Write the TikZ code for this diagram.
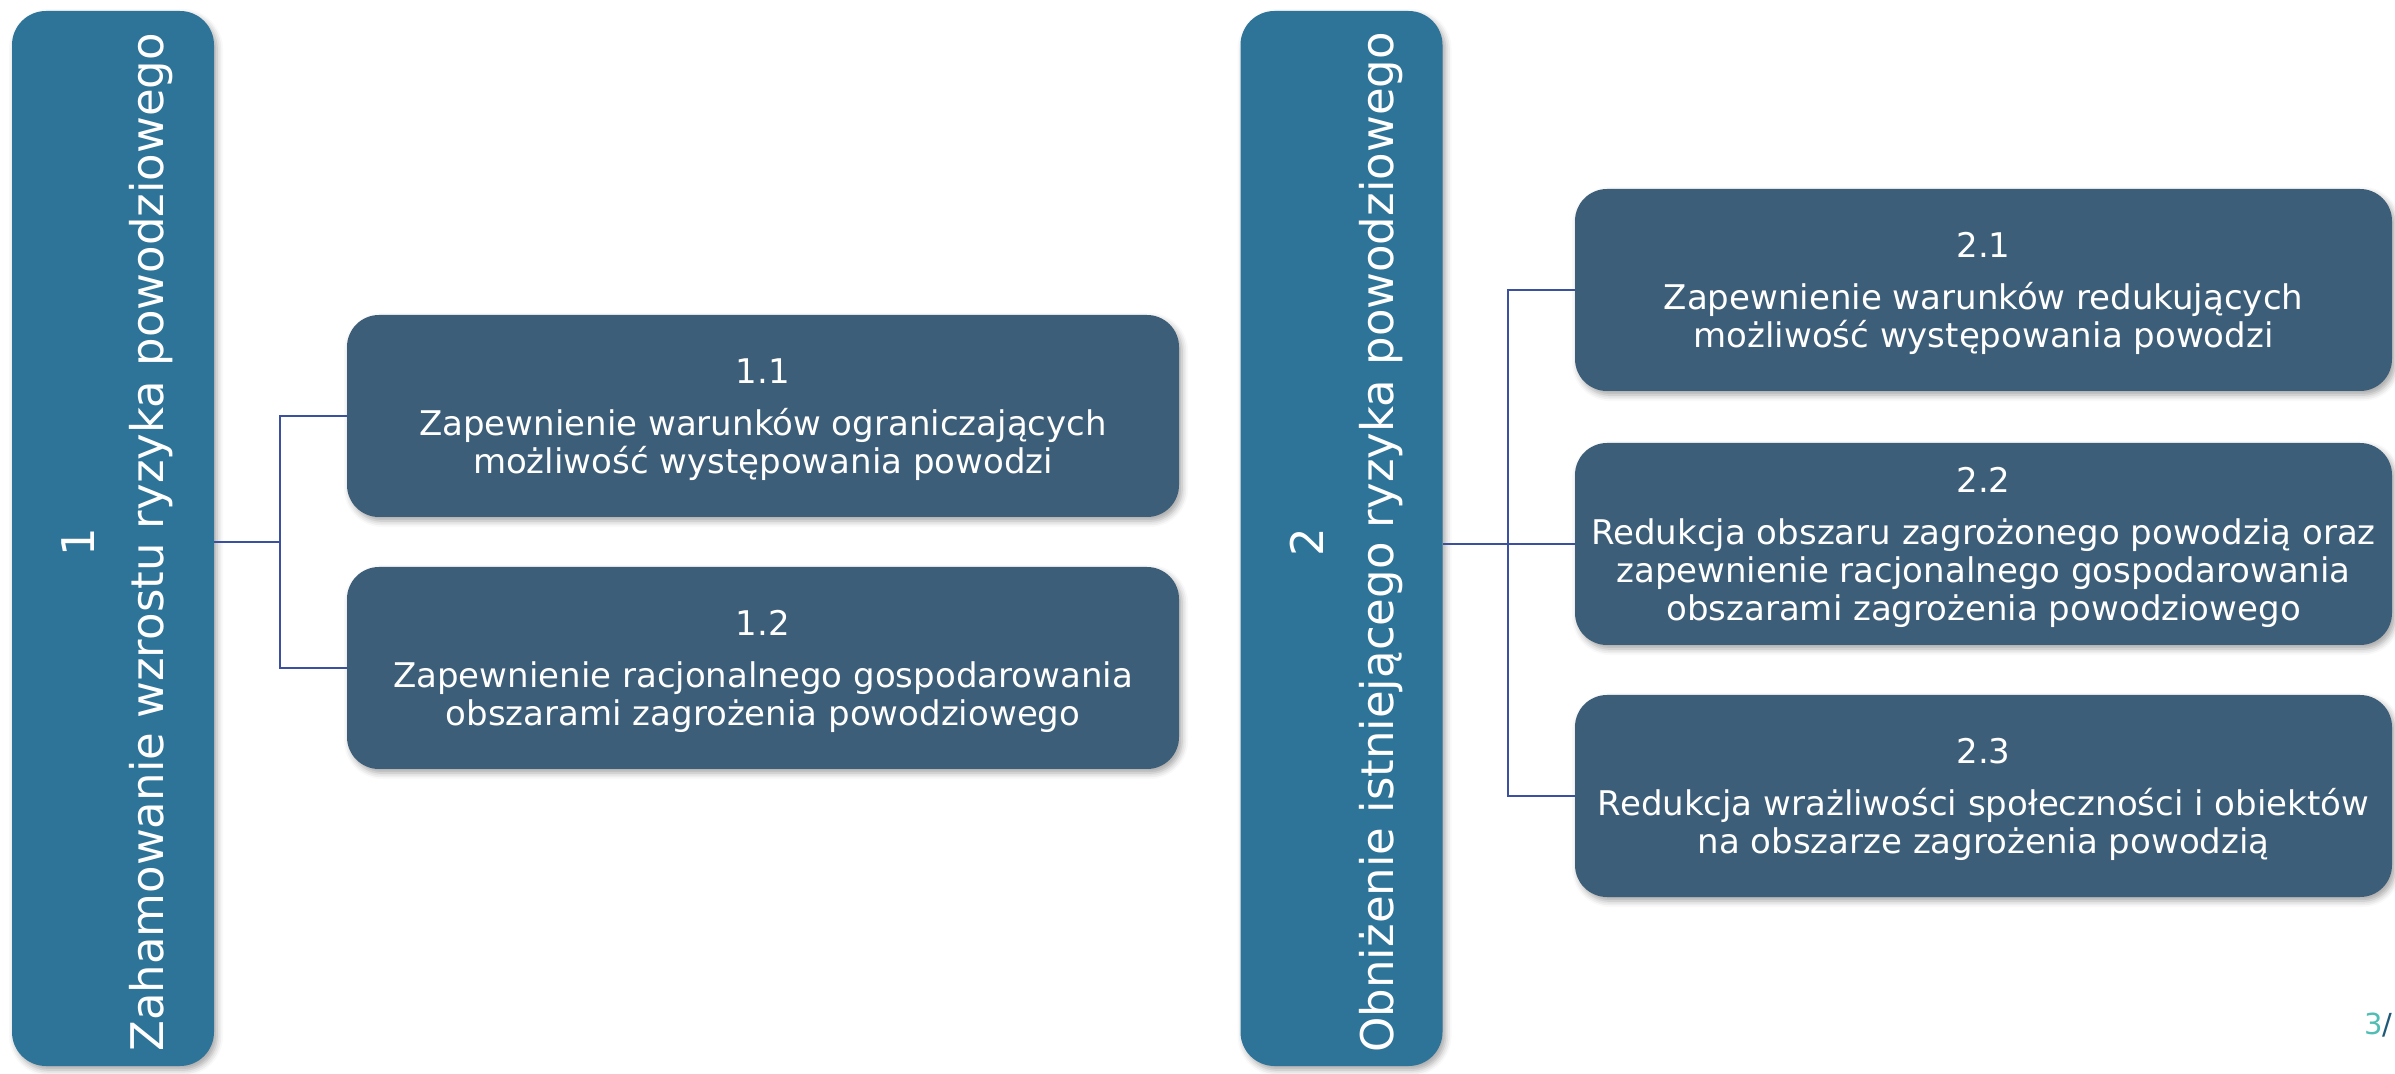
\documentclass[tikz,border=0pt]{standalone}
\usepackage{fontspec}
\setmainfont{DejaVu Sans}
\usetikzlibrary{shadows.blur}
\definecolor{bigc}{RGB}{46,116,153}
\definecolor{smallc}{RGB}{61,94,120}
\definecolor{connc}{RGB}{60,80,160}
\definecolor{pagec}{RGB}{80,190,180}
\definecolor{slashc}{RGB}{30,90,120}
\tikzset{
  myshadow/.style={blur shadow={shadow xshift=1.5pt, shadow yshift=-2pt, shadow blur radius=3pt, shadow opacity=35}},
  bigbox/.style={rectangle, rounded corners=17pt, fill=bigc, draw=none,
    minimum width=101pt, minimum height=527.5pt, inner sep=0pt, myshadow},
  vtext/.style={rotate=90, anchor=base, inner sep=0pt, text=white,
    font=\fontsize{22.5}{27}\selectfont},
  subbox/.style={rectangle, rounded corners=16pt, fill=smallc, draw=none, text=white,
    minimum height=101pt, inner sep=0pt, align=center, myshadow,
    font=\fontsize{17}{19}\selectfont},
  conn/.style={draw=connc, line width=1.4pt}
}
\newcommand{\numstrut}{\rule{0pt}{16.4pt}}
\begin{document}
\begin{tikzpicture}[x=0.5pt,y=-0.5pt]
\useasboundingbox (0,0) rectangle (2395,1074);
% big vertical boxes
\node[bigbox] (b1) at (113,538.5) {};
\node[vtext] (t1n) at (94,542.5) {1};
\node[vtext] (t1) at (163,542.5) {Zahamowanie wzrostu ryzyka powodziowego};
\node[bigbox] (b2) at (1341.5,538.5) {};
\node[vtext] (t2n) at (1323,542.5) {2};
\node[vtext] (t2) at (1393,542.5) {Obniżenie istniejącego ryzyka powodziowego};
% sub boxes
\node[subbox, minimum width=416pt] (b11) at (763,416) {\numstrut 1.1\\[7pt]Zapewnienie warunków ograniczających\\możliwość występowania powodzi};
\node[subbox, minimum width=416pt] (b12) at (763,668) {\numstrut 1.2\\[7pt]Zapewnienie racjonalnego gospodarowania\\obszarami zagrożenia powodziowego};
\node[subbox, minimum width=408.5pt] (b21) at (1983.5,290) {\numstrut 2.1\\[7pt]Zapewnienie warunków redukujących\\możliwość występowania powodzi};
\node[subbox, minimum width=408.5pt] (b22) at (1983.5,544) {\numstrut 2.2\\[7pt]Redukcja obszaru zagrożonego powodzią oraz\\zapewnienie racjonalnego gospodarowania\\obszarami zagrożenia powodziowego};
\node[subbox, minimum width=408.5pt] (b23) at (1983.5,796) {\numstrut 2.3\\[7pt]Redukcja wrażliwości społeczności i obiektów\\na obszarze zagrożenia powodzią};
% connectors
\coordinate (j1) at (280,542);
\coordinate (j2) at (1508,544);
\draw[conn] (b1.east |- j1) -- (j1);
\draw[conn] (b11.west) -| (j1) |- (b12.west);
\draw[conn] (b2.east |- b22.west) -- (b22.west);
\draw[conn] (b21.west) -| (j2) |- (b23.west);
% page number
\node[anchor=base west, inner sep=0pt, font=\fontsize{14.5}{16}\selectfont] (pg) at (2364,1034) {\textcolor{pagec}{3}\textcolor{slashc}{/}};
\end{tikzpicture}
\end{document}
